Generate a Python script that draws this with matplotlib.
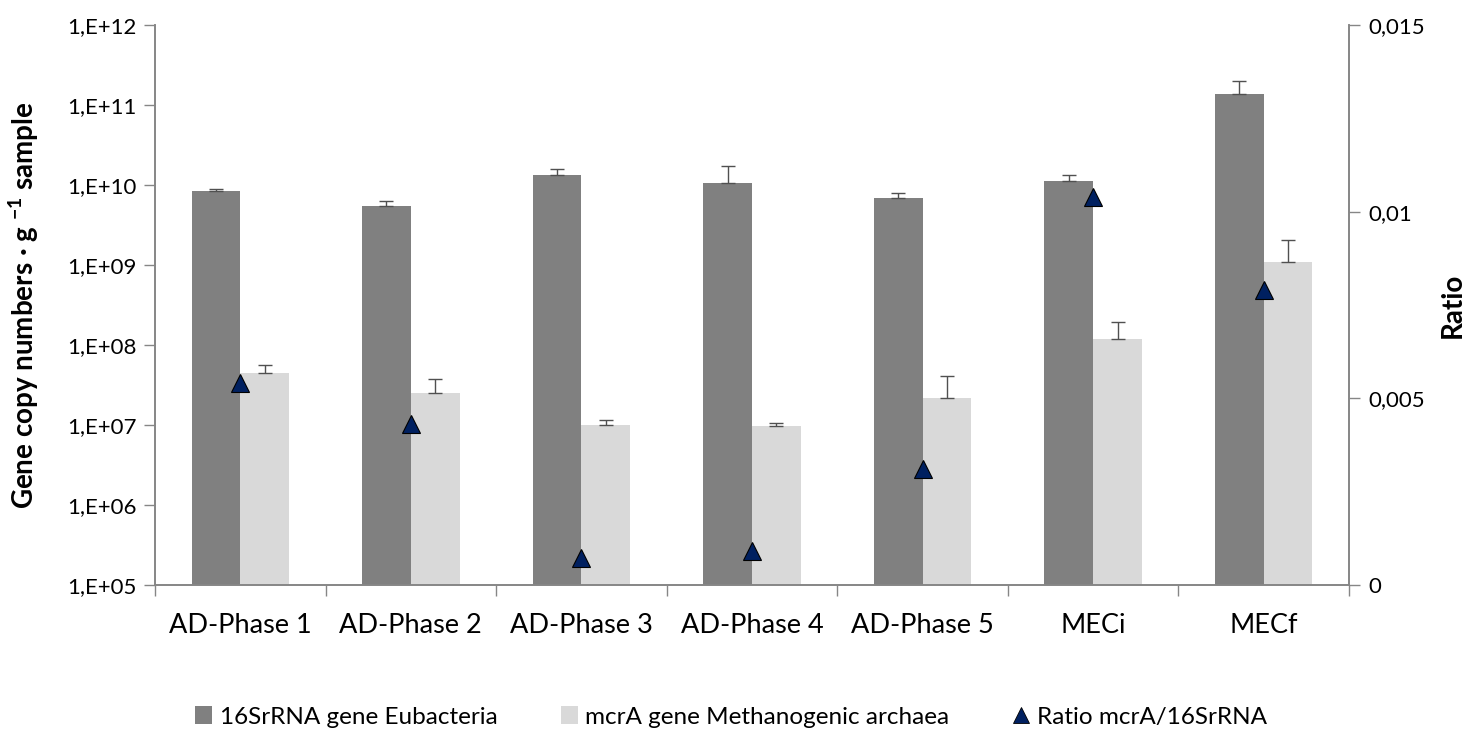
import numpy as np
import matplotlib
matplotlib.use("Agg")
import matplotlib.pyplot as plt
from matplotlib.lines import Line2D
from matplotlib.patches import Patch

plt.rcParams['font.family'] = ['Lato', 'DejaVu Sans']
plt.rcParams['mathtext.fontset'] = 'custom'
plt.rcParams['mathtext.rm'] = 'Lato'
plt.rcParams['mathtext.bf'] = 'Lato:bold'

# data
categories = ["AD-Phase 1", "AD-Phase 2", "AD-Phase 3", "AD-Phase 4",
              "AD-Phase 5", "MECi", "MECf"]
eubacteria = [8.5e9, 5.5e9, 1.34e10, 1.07e10, 6.9e9, 1.13e10, 1.38e11]
eubacteria_top = [8.8e9, 6.3e9, 1.6e10, 1.75e10, 7.9e9, 1.34e10, 2.0e11]
archaea = [4.5e7, 2.5e7, 1.0e7, 9.7e6, 2.15e7, 1.2e8, 1.1e9]
archaea_top = [5.7e7, 3.8e7, 1.15e7, 1.05e7, 4.1e7, 1.95e8, 2.05e9]
ratio = [0.0054, 0.0043, 0.00072, 0.00091, 0.0031, 0.0104, 0.0079]

y_ticks = [1e5, 1e6, 1e7, 1e8, 1e9, 1e10, 1e11, 1e12]
y_labels = ["1,E+05", "1,E+06", "1,E+07", "1,E+08", "1,E+09", "1,E+10",
            "1,E+11", "1,E+12"]
r_ticks = [0, 0.005, 0.01, 0.015]
r_labels = ["0", "0,005", "0,01", "0,015"]

dark = "#808080"
light = "#D9D9D9"
navy = "#002060"
axcol = "#868686"

fig = plt.figure(figsize=(14.69, 7.4), dpi=100)
ax = fig.add_axes([155 / 1469, 1 - 585 / 740, 1194 / 1469, 560 / 740])

x = np.arange(len(categories))
w = 0.286
eb = np.array(eubacteria)
ar = np.array(archaea)
ax.bar(x - w / 2, eb, w, color=dark, zorder=2)
ax.bar(x + w / 2, ar, w, color=light, zorder=2)
ax.errorbar(x - w / 2, eb, yerr=[np.zeros_like(eb), np.array(eubacteria_top) - eb],
            fmt="none", ecolor="#505050", elinewidth=1, capsize=5, capthick=1, zorder=3)
ax.errorbar(x + w / 2, ar, yerr=[np.zeros_like(ar), np.array(archaea_top) - ar],
            fmt="none", ecolor="#505050", elinewidth=1, capsize=5, capthick=1, zorder=3)

ax.set_yscale("log")
ax.set_ylim(1e5, 1e12)
ax.set_xlim(-0.5, len(categories) - 0.5)
ax.set_yticks(y_ticks)
ax.set_yticklabels(y_labels)
ax.minorticks_off()
ax.set_xticks(x)
ax.set_xticklabels(categories)
ax.set_xticks(np.arange(len(categories) + 1) - 0.5, minor=True)
ax.tick_params(axis="x", which="major", length=0, pad=20, labelsize=19.5)
ax.tick_params(axis="x", which="minor", length=8, color=axcol, width=1)
ax.tick_params(axis="y", which="major", length=8, color=axcol, width=1,
               labelsize=16, pad=5)
for s in ax.spines.values():
    s.set_color(axcol)
    s.set_linewidth(1.2)
ax.spines["top"].set_visible(False)

ax2 = ax.twinx()
ax2.plot(x, ratio, linestyle="none", marker="^", markersize=13,
         markerfacecolor=navy, markeredgecolor="#000000", markeredgewidth=0.8)
ax2.set_ylim(0, 0.015)
ax2.set_yticks(r_ticks)
ax2.set_yticklabels(r_labels)
ax2.tick_params(axis="y", length=8, color=axcol, width=1, labelsize=16, pad=6)
for s in ax2.spines.values():
    s.set_color(axcol)
    s.set_linewidth(1.2)
ax2.spines["top"].set_visible(False)

# axis titles placed directly on the figure
fig.text(24 / 1469, 1 - 305 / 740, r"Gene copy numbers · g $^{\mathbf{-1}}$ sample",
         rotation=90, ha="center", va="center", fontsize=20, fontweight="bold")
fig.text(1453 / 1469, 1 - 305 / 740, "Ratio", rotation=90, ha="center",
         va="center", fontsize=20, fontweight="bold")

handles = [
    Patch(facecolor=dark, label="16SrRNA gene Eubacteria"),
    Patch(facecolor=light, label="mcrA gene Methanogenic archaea"),
    Line2D([], [], linestyle="none", marker="^", markersize=12,
           markerfacecolor=navy, markeredgecolor="#000000", markeredgewidth=0.6,
           label="Ratio mcrA/16SrRNA"),
]
fig.legend(handles=handles, loc="center", bbox_to_anchor=(731 / 1469, 1 - 717 / 740),
           ncol=3, frameon=False, fontsize=17.5, handlelength=0.7, handleheight=0.7,
           handletextpad=0.3, columnspacing=2.6)

fig.savefig("out.png", dpi=100)
